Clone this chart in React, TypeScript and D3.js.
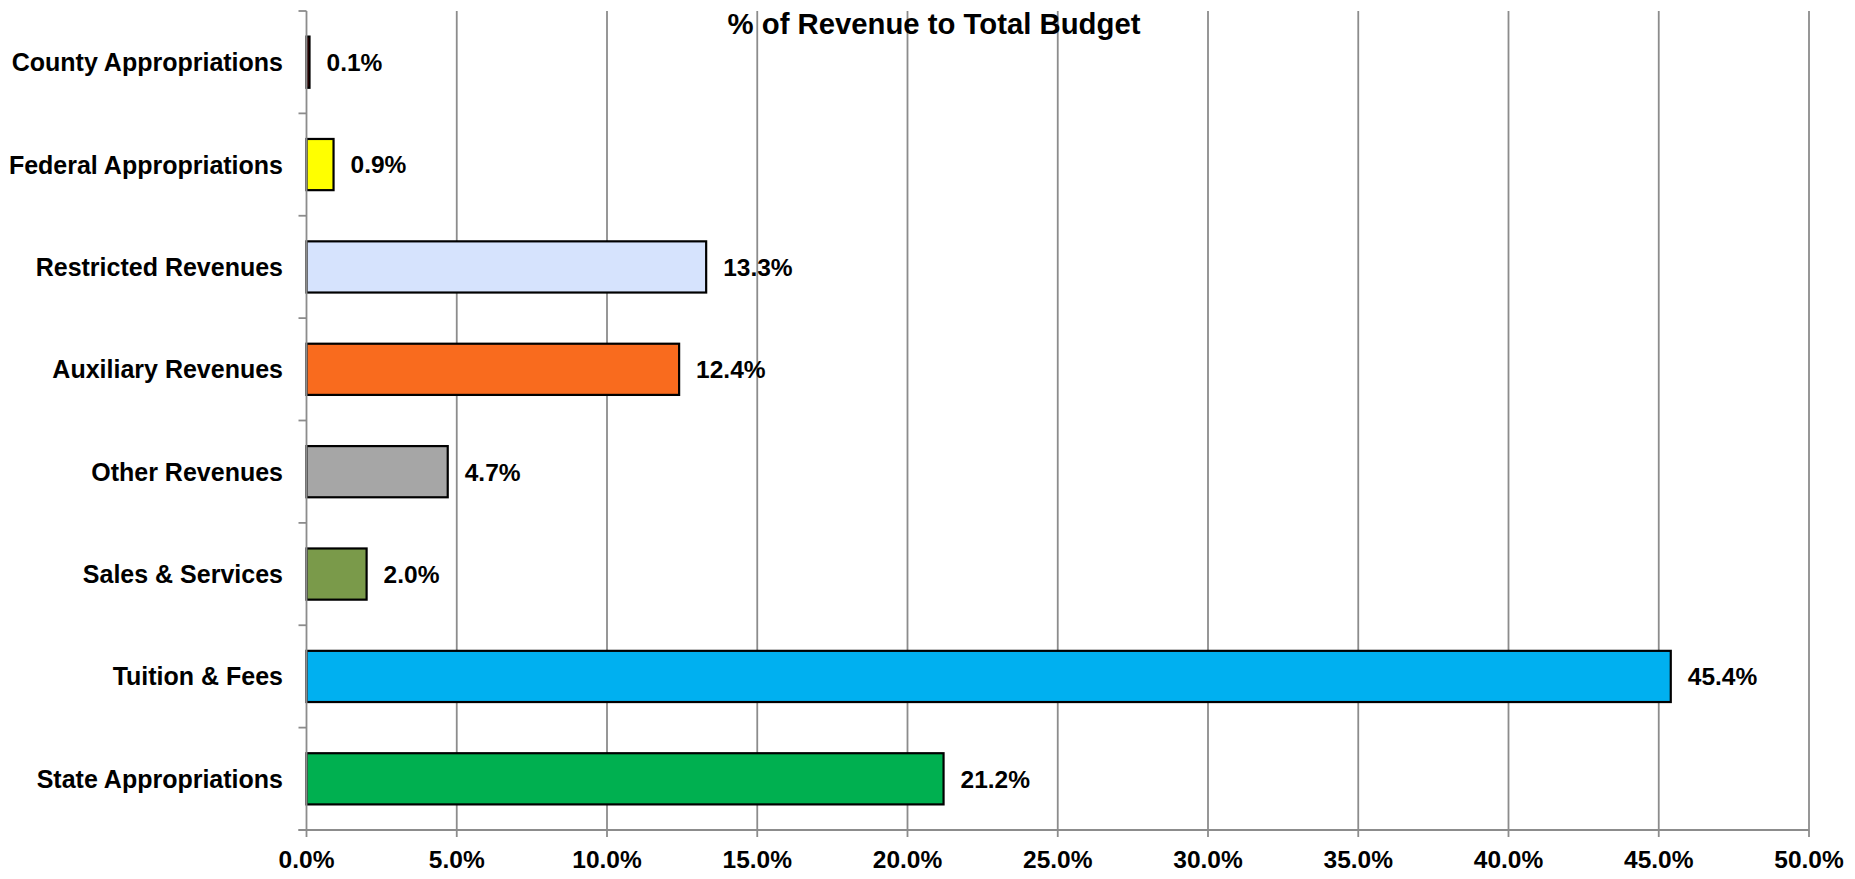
import React from "react";
import * as d3 from "d3";

const categories = [
  "County Appropriations",
  "Federal Appropriations",
  "Restricted Revenues",
  "Auxiliary Revenues",
  "Other Revenues",
  "Sales & Services",
  "Tuition & Fees",
  "State Appropriations",
];
const values = [0.1, 0.9, 13.3, 12.4, 4.7, 2.0, 45.4, 21.2];
const colors = ["#5a0000", "#FFFF00", "#D6E3FD", "#F96B1E", "#A6A6A6", "#7A9A4A", "#00B0F0", "#00B050"];
const xTicks = [0, 5, 10, 15, 20, 25, 30, 35, 40, 45, 50];
const title = "% of Revenue to Total Budget";

const W = 1855;
const H = 879;
const left = 306.5;
const right = 1809;
const top = 11;
const bottom = 830;
const FONT = "'Liberation Sans', Arial, sans-serif";

export default function App() {
  const x = d3.scaleLinear().domain([0, 50]).range([left, right]);
  const y = d3.scaleBand<string>().domain(categories).range([top, bottom]).paddingInner(0.5).paddingOuter(0.25);
  const bandStep = (bottom - top) / categories.length;
  const boundaries = d3.range(categories.length + 1).map((i) => top + i * bandStep);
  const grid = "#8c8c8c";

  return (
    <svg width={W} height={H} style={{ position: "absolute", left: 0, top: 0, background: "#fff" }}>
      {/* gridlines */}
      {xTicks.slice(1).map((t) => (
        <line key={"g" + t} x1={x(t)} x2={x(t)} y1={top} y2={bottom + 7} stroke={grid} strokeWidth={1.8} />
      ))}
      {/* y axis tick marks */}
      {boundaries.map((b, i) => (
        <line key={"yt" + i} x1={left - 8} x2={left} y1={b} y2={b} stroke={grid} strokeWidth={1.8} />
      ))}
      {/* bars */}
      {categories.map((c, i) => (
        <rect
          key={c}
          x={x(0)}
          y={y(c)}
          width={x(values[i]) - x(0)}
          height={y.bandwidth()}
          fill={colors[i]}
          stroke="#000"
          strokeWidth={2.2}
        />
      ))}
      {/* axes */}
      <line x1={left} x2={left} y1={top} y2={bottom} stroke={grid} strokeWidth={1.8} />
      <line x1={left - 8} x2={right} y1={bottom} y2={bottom} stroke={grid} strokeWidth={1.8} />
      <line x1={left} x2={left} y1={bottom} y2={bottom + 7} stroke={grid} strokeWidth={1.8} />
      {/* x tick labels */}
      {xTicks.map((t) => (
        <text
          key={"xl" + t}
          x={x(t)}
          y={868}
          textAnchor="middle"
          fontFamily={FONT}
          fontWeight="bold"
          fontSize={24.5}
          fill="#000"
        >
          {t.toFixed(1) + "%"}
        </text>
      ))}
      {/* category labels */}
      {categories.map((c) => (
        <text
          key={"cl" + c}
          x={283}
          y={(y(c) as number) + y.bandwidth() / 2}
          dy="0.36em"
          textAnchor="end"
          fontFamily={FONT}
          fontWeight="bold"
          fontSize={25}
          fill="#000"
        >
          {c}
        </text>
      ))}
      {/* value labels */}
      {categories.map((c, i) => (
        <text
          key={"vl" + c}
          x={x(values[i]) + 17}
          y={(y(c) as number) + y.bandwidth() / 2}
          dy="0.36em"
          fontFamily={FONT}
          fontWeight="bold"
          fontSize={24.5}
          fill="#000"
        >
          {values[i].toFixed(1) + "%"}
        </text>
      ))}
      {/* title */}
      <text x={934} y={34} textAnchor="middle" fontFamily={FONT} fontWeight="bold" fontSize={29.3} fill="#000">
        {title}
      </text>
    </svg>
  );
}
